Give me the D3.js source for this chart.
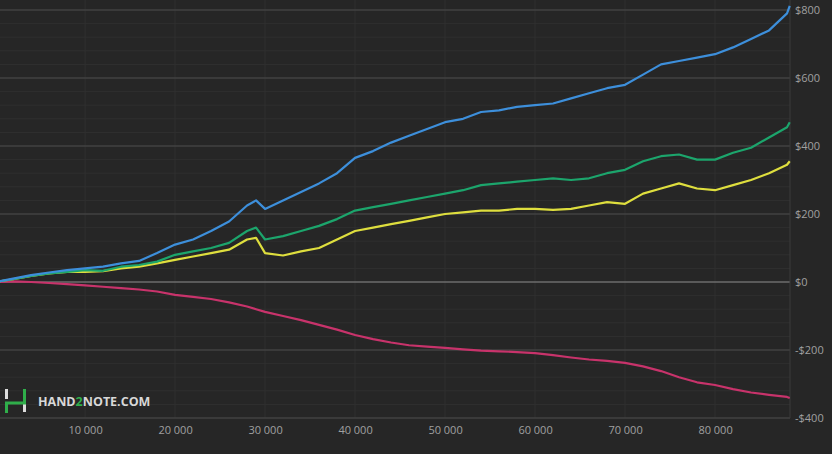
<!DOCTYPE html><html><head><meta charset="utf-8">
<script src="https://cdn.jsdelivr.net/npm/d3@7"></script>
<style>body{margin:0;background:#262626}svg{display:block}</style></head><body>
<script>
const hands=[0,2000,4000,6000,8000,10000,12000,14000,16000,18000,20000,22000,24000,26000,28000,29000,30000,32000,34000,36000,38000,40000,42000,44000,46000,48000,50000,52000,54000,56000,58000,60000,62000,64000,66000,68000,70000,72000,74000,76000,78000,80000,82000,84000,86000,88000,88300];
const blue=[0,10,20,28,35,40,45,55,62,85,110,125,150,178,225,240,215,240,265,290,320,365,385,410,430,450,470,480,500,505,515,520,525,540,555,570,580,610,640,650,660,670,690,715,740,790,812];
const green=[0,8,18,25,30,35,33,45,50,60,80,90,100,115,150,160,125,135,150,165,185,210,220,230,240,250,260,270,285,290,295,300,305,300,305,320,330,355,370,375,360,360,380,395,425,455,470];
const yellow=[0,8,18,25,30,30,32,40,45,55,65,75,85,95,125,130,85,78,90,100,125,150,160,170,180,190,200,205,210,210,215,215,212,215,225,235,230,260,275,290,275,270,285,300,320,345,355];
const pink=[0,2,0,-3,-6,-10,-14,-18,-22,-28,-38,-44,-50,-60,-72,-80,-88,-100,-112,-126,-140,-156,-168,-178,-186,-190,-194,-198,-202,-204,-206,-209,-215,-222,-228,-232,-238,-248,-262,-280,-295,-303,-315,-325,-332,-338,-341];
const xTicks=[10000,20000,30000,40000,50000,60000,70000,80000];
const yTicks=[-400,-200,0,200,400,600,800];
const series=[{v:pink,c:"#c8336b"},{v:yellow,c:"#dede3e"},{v:green,c:"#1ca56c"},{v:blue,c:"#3d8fdb"}];
const W=832,H=454;
const svg=d3.select("body").append("svg").attr("width",W).attr("height",H);
svg.append("rect").attr("width",W).attr("height",H).attr("fill","#262626");
const x=d3.scaleLinear().domain([550,88330]).range([0,790]);
const y=d3.scaleLinear().domain([-400,800]).range([418,10]);
const g=svg.append("g");
g.selectAll(".mn").data(d3.range(-400,801,40)).join("line").attr("x1",0).attr("x2",790).attr("y1",d=>y(d)).attr("y2",d=>y(d)).attr("stroke","#2f2f2f");
g.selectAll(".vx").data(xTicks).join("line").attr("x1",d=>x(d)).attr("x2",d=>x(d)).attr("y1",0).attr("y2",418).attr("stroke","#303030");
g.selectAll(".mj").data(yTicks).join("line").attr("x1",0).attr("x2",790).attr("y1",d=>y(d)).attr("y2",d=>y(d)).attr("stroke",d=>d===0?"#8a8a8a":"#4a4a4a");
g.append("line").attr("x1",790).attr("x2",790).attr("y1",0).attr("y2",418).attr("stroke","#3a3a3a");
const line=d3.line().x((d,i)=>x(hands[i])).y(d=>y(d));
series.forEach(s=>g.append("path").attr("d",line(s.v)).attr("fill","none").attr("stroke",s.c).attr("stroke-width",2.2).attr("stroke-linejoin","round"));
const yAx=svg.append("g").attr("transform","translate(790,0)").call(d3.axisRight(y).tickValues(yTicks).tickSize(0).tickPadding(5).tickFormat(d=>(d<0?"-$":"$")+Math.abs(d)));
const xAx=svg.append("g").attr("transform","translate(0,418)").call(d3.axisBottom(x).tickValues(xTicks).tickSize(0).tickPadding(8).tickFormat(d=>d3.format(",")(d).replace(","," ")));
[yAx,xAx].forEach(a=>{a.select(".domain").remove();a.selectAll("text").attr("fill","#a0a0a0").attr("font-family","Open Sans, sans-serif").attr("font-size",11);});
const lg=svg.append("g");
lg.append("rect").attr("x",5).attr("y",389).attr("width",3).attr("height",10).attr("fill","#ddd");
lg.append("rect").attr("x",23).attr("y",402).attr("width",3).attr("height",10).attr("fill","#ddd");
lg.append("path").attr("d","M6.5,413 V403 H24.5 V389").attr("fill","none").attr("stroke","#2fae4a").attr("stroke-width",3);
const t=lg.append("text").attr("x",38).attr("y",406).attr("font-family","Open Sans, sans-serif").attr("font-weight","bold").attr("font-size",12.5).attr("fill","#d8d8d8");
t.append("tspan").text("HAND");t.append("tspan").attr("fill","#2fae4a").text("2");t.append("tspan").text("NOTE.COM");
</script></body></html>
